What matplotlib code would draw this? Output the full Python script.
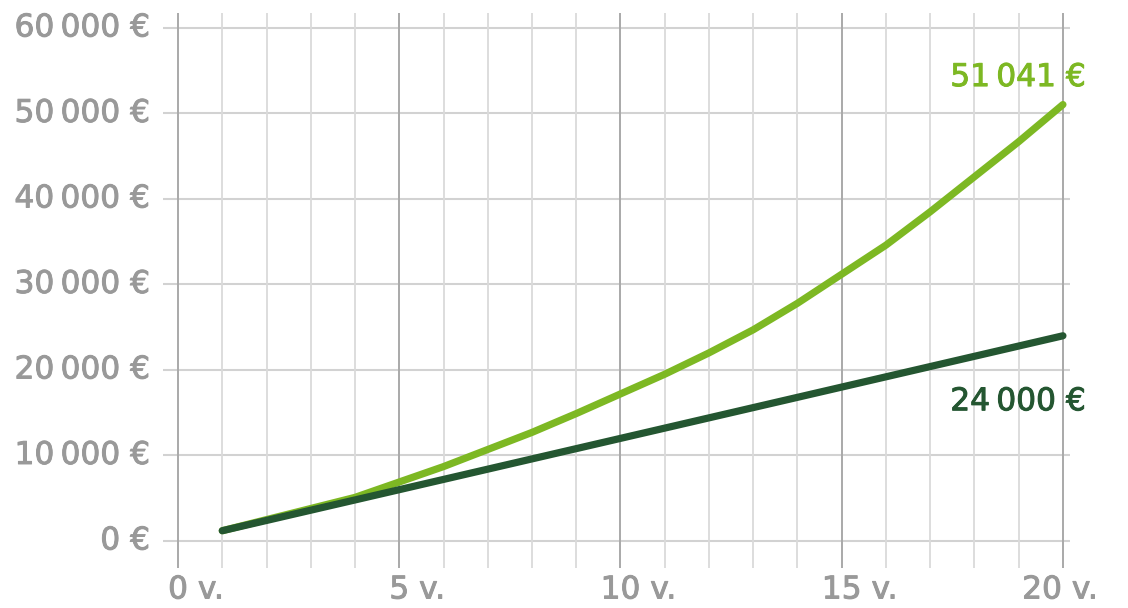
import matplotlib
matplotlib.use("Agg")
import matplotlib.pyplot as plt
import matplotlib.patheffects as pe

years = list(range(1, 21))
savings_growth = [1200, 2500, 3800, 5100, 6900, 8700, 10700, 12700, 14900, 17200,
                  19500, 22000, 24700, 27800, 31200, 34600, 38500, 42600, 46700, 51041]
savings_plain = [1200, 2400, 3600, 4800, 6000, 7200, 8400, 9600, 10800, 12000,
                 13200, 14400, 15600, 16800, 18000, 19200, 20400, 21600, 22800, 24000]
x_ticks = [0, 5, 10, 15, 20]
x_labels = ["0 v.", "5 v.", "10 v.", "15 v.", "20 v."]
y_ticks = [0, 10000, 20000, 30000, 40000, 50000, 60000]
y_labels = ["0 €", "10\u2009000 €", "20\u2009000 €", "30\u2009000 €",
            "40\u2009000 €", "50\u2009000 €", "60\u2009000 €"]
end_growth_label = "51\u2009041 €"
end_plain_label = "24\u2009000 €"

LIGHT = "#7db823"
DARK = "#245631"
GRAY = "#999999"

plt.rcParams['font.family'] = ['DejaVu Sans']
fig = plt.figure(figsize=(11.28, 6.08), dpi=100)
W, H = 1128, 608
ax = fig.add_axes([163 / W, (H - 568) / H, 907 / W, 555 / H])
ax.set_xlim(-0.34, 20.16)
ax.set_ylim(-3160, 61750)
for s in ax.spines.values():
    s.set_visible(False)
ax.set_xticks([])
ax.set_yticks([])

for v in y_ticks:
    ax.axhline(v, color="#d2d2d2", lw=1.5, zorder=1)
for n in range(0, 21):
    major = n % 5 == 0
    ax.axvline(n, color="#a9a9a9" if major else "#dadada", lw=1.4 if major else 1.3, zorder=1)

ax.plot(years, savings_growth, color=LIGHT, lw=5.2, solid_capstyle='round', zorder=3)
ax.plot(years, savings_plain, color=DARK, lw=5.2, solid_capstyle='round', zorder=4)


def heavy(color):
    return [pe.withStroke(linewidth=0.7, foreground=color)]


fs = 22.5
for v, lab in zip(y_ticks, y_labels):
    ax.annotate(lab, xy=(0, v), xytext=(-28, 0), textcoords='offset pixels',
                ha='right', va='center', color=GRAY, fontsize=fs,
                annotation_clip=False, path_effects=heavy(GRAY))

fig.canvas.draw()
renderer = fig.canvas.get_renderer()
for i, (v, lab) in enumerate(zip(x_ticks, x_labels)):
    if i == len(x_ticks) - 1:
        ax.annotate(lab, xy=(v, 0), xytext=(35, -49), textcoords='offset pixels',
                    ha='right', va='center', color=GRAY, fontsize=fs,
                    annotation_clip=False, path_effects=heavy(GRAY))
        continue
    num = lab.split(" ")[0]
    t = fig.text(0, 0, num, fontsize=fs)
    w = t.get_window_extent(renderer).width
    t.remove()
    ax.annotate(lab, xy=(v, 0), xytext=(-w / 2, -49), textcoords='offset pixels',
                ha='left', va='center', color=GRAY, fontsize=fs,
                annotation_clip=False, path_effects=heavy(GRAY))

ax.annotate(end_growth_label, xy=(years[-1], savings_growth[-1]), xytext=(23, 27),
            textcoords='offset pixels', ha='right', va='center', color=LIGHT,
            fontsize=fs, annotation_clip=False, path_effects=heavy(LIGHT))
ax.annotate(end_plain_label, xy=(years[-1], savings_plain[-1]), xytext=(23, -66),
            textcoords='offset pixels', ha='right', va='center', color=DARK,
            fontsize=fs, annotation_clip=False, path_effects=heavy(DARK))

fig.savefig("out.png", dpi=100)
